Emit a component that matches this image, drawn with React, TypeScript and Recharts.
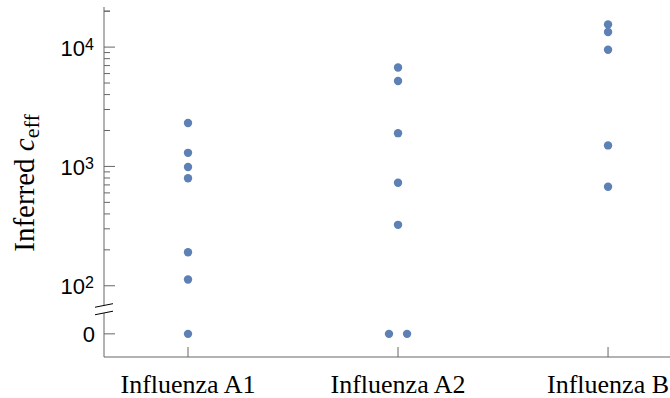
import React from "react";
import { ScatterChart, Scatter, XAxis, YAxis, ReferenceLine } from "recharts";

const categories = ["Influenza A1", "Influenza A2", "Influenza B"];

// inferred c_eff per sample
const a1Values = [2310, 1300, 990, 795, 191, 113, 0];
const a2Values = [6750, 5200, 1900, 730, 324, 0, 0];
const bValues = [15500, 13400, 9500, 1500, 675];

// small horizontal offsets used in the figure to separate tied points
const a2Offsets = [0, 0, 0, 0, 0, -0.043, 0.043];

const AXIS = "#666666";
const DOT = "#5E81B5";

// y axis is in log10 units, with zero drawn below a broken axis
const ZERO_POS = 1.597;
const Y_MIN = 1.403;
const Y_MAX = 4.336;
const X_MIN = -0.4;
const X_MAX = 2.295;
const BREAK_HI = 1.835;
const BREAK_LO = 1.772;

const toY = (v: number) => (v > 0 ? Math.log10(v) : ZERO_POS);

const groups = [a1Values, a2Values, bValues];
const offsets = [[], a2Offsets, []] as number[][];
const points = groups.flatMap((vals, i) =>
  vals.map((v, j) => ({ x: i + (offsets[i][j] || 0), y: toY(v), value: v }))
);

const yTicks: number[] = [ZERO_POS];
for (let d = 2; d <= 4; d++) {
  for (let m = 1; m <= 9; m++) {
    const t = d + Math.log10(m);
    if (t <= Y_MAX) yTicks.push(t);
  }
}
yTicks.push(4 + Math.log10(2));

function YTick(props: any) {
  const { x, y, payload } = props;
  const v = payload.value;
  const isZero = Math.abs(v - ZERO_POS) < 1e-6;
  const isMajor = isZero || Math.abs(v - Math.round(v)) < 1e-6;
  const len = isMajor ? 11 : 6;
  return (
    <g>
      <line x1={x} x2={x + len} y1={y} y2={y} stroke={AXIS} strokeWidth={1} />
      {isZero && (
        <text x={x - 9} y={y + 8.5} textAnchor="end" fontFamily="Liberation Sans" fontSize={22} fill="#000">
          0
        </text>
      )}
      {!isZero && isMajor && (
        <text x={x - 10} y={y + 8.5} textAnchor="end" fontFamily="Liberation Sans" fontSize={22} fill="#000">
          10
          <tspan dy={-6} fontSize={16}>
            {Math.round(v)}
          </tspan>
        </text>
      )}
    </g>
  );
}

function XTick(props: any) {
  const { x, y, payload } = props;
  return (
    <g>
      <line x1={x} x2={x} y1={y} y2={y - 10} stroke={AXIS} strokeWidth={1} />
      <text x={x} y={y + 36} textAnchor="middle" fontFamily="Liberation Serif" fontSize={26} fill="#000">
        {categories[payload.value]}
      </text>
    </g>
  );
}

function YLabel(props: any) {
  const { viewBox } = props;
  const cx = viewBox.x + 34;
  const cy = viewBox.y + viewBox.height / 2 + 1;
  return (
    <text
      x={cx}
      y={cy}
      transform={`rotate(-90 ${cx} ${cy})`}
      textAnchor="middle"
      fontFamily="Liberation Serif"
      fontSize={29}
      fill="#000"
    >
      Inferred <tspan fontStyle="italic">c</tspan>
      <tspan fontSize={22} dy={5}>
        eff
      </tspan>
    </text>
  );
}

export default function App() {
  return (
    <div style={{ position: "absolute", left: 0, top: 0, background: "#fff" }}>
      <ScatterChart width={670} height={398} margin={{ top: 7, right: 0, bottom: 0, left: 0 }}>
        <XAxis
          type="number"
          dataKey="x"
          domain={[X_MIN, X_MAX]}
          ticks={[0, 1, 2]}
          allowDataOverflow
          height={41}
          tickSize={0}
          tickMargin={0}
          tickLine={false}
          axisLine={{ stroke: AXIS }}
          tick={<XTick />}
        />
        <YAxis
          type="number"
          dataKey="y"
          domain={[Y_MIN, Y_MAX]}
          ticks={yTicks}
          interval={0}
          allowDataOverflow
          width={104}
          tickSize={0}
          tickMargin={0}
          tickLine={false}
          axisLine={false}
          tick={<YTick />}
          label={{ content: <YLabel /> }}
        />
        <ReferenceLine
          segment={[{ x: X_MIN, y: Y_MAX }, { x: X_MIN, y: BREAK_HI }]}
          stroke={AXIS}
          ifOverflow="visible"
        />
        <ReferenceLine
          segment={[{ x: X_MIN, y: BREAK_LO }, { x: X_MIN, y: Y_MIN }]}
          stroke={AXIS}
          ifOverflow="visible"
        />
        <ReferenceLine
          segment={[{ x: -0.443, y: BREAK_HI - 0.015 }, { x: -0.357, y: BREAK_HI + 0.015 }]}
          stroke="#000"
          ifOverflow="visible"
        />
        <ReferenceLine
          segment={[{ x: -0.443, y: BREAK_LO - 0.015 }, { x: -0.357, y: BREAK_LO + 0.015 }]}
          stroke="#000"
          ifOverflow="visible"
        />
        <Scatter
          data={points}
          isAnimationActive={false}
          shape={(p: any) => <circle cx={p.cx} cy={p.cy} r={4.2} fill={DOT} />}
        />
      </ScatterChart>
    </div>
  );
}
